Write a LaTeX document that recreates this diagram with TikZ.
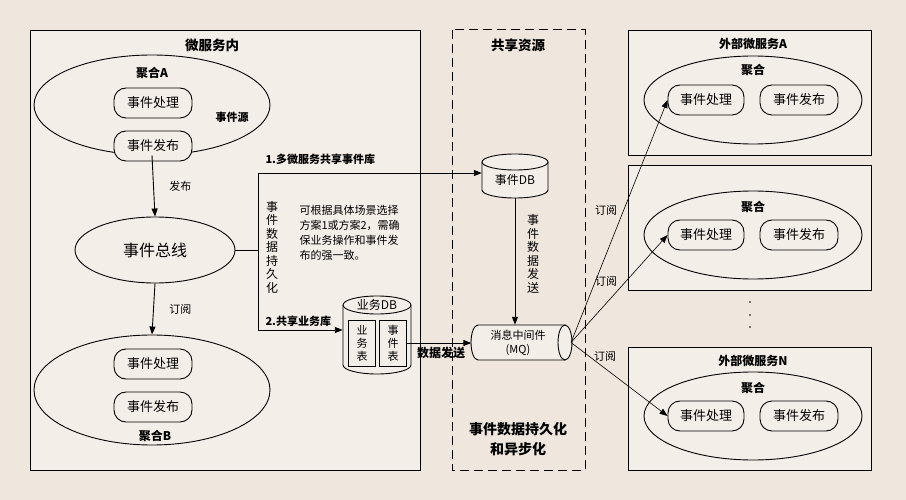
\documentclass[tikz,border=0pt]{standalone}
\usepackage{fontspec}
\setmainfont{Noto Sans CJK SC}
\usetikzlibrary{shapes.geometric,arrows.meta}
\definecolor{bg}{HTML}{EFE6DD}
\definecolor{bx}{HTML}{F4EEE8}
\newcommand\myvcyl[5]{% x1 x2 ytop ybot ry
  \draw[lin,fill=bx] (#1,#3) -- (#1,#4) arc[start angle=180,end angle=0,x radius={(#2-#1)/2},y radius=#5] -- (#2,#3);
  \draw[lin,fill=bx] ({(#1+#2)/2},#3) ellipse[x radius={(#2-#1)/2},y radius=#5];}
\begin{document}
\begin{tikzpicture}[x=1pt,y=-1pt,
  every node/.style={font=\fontsize{12}{14}\selectfont},
  lin/.style={draw=black,line width=0.9pt},
  arr/.style={lin,-{Triangle[length=8pt,width=6pt]}},
  thin arr/.style={draw=black,line width=0.6pt,-{Triangle[length=8pt,width=6pt]}},
  rr/.style={lin,rounded corners=12pt,minimum width=78pt,minimum height=30pt,fill=bx,inner sep=0pt,font=\fontsize{13}{15}\selectfont},
  ell/.style={lin,ellipse,fill=bx,inner sep=0pt},
  ttl/.style={font=\fontsize{13.5}{17}\selectfont\bfseries},
  bl/.style={font=\fontsize{12}{14}\selectfont\bfseries},
  sm/.style={font=\fontsize{11}{13}\selectfont}]
\fill[bg] (0,0) rectangle (906,500);
\useasboundingbox (0,0) rectangle (906,500);
% left box
\draw[lin,fill=bx] (30,30) rectangle (420,470);
\node[ttl] (t1) at (212,45) {微服务内};
\node[ell,minimum width=236pt,minimum height=100pt] (eA) at (152,105) {};
\node[bl] (gA) at (152,73) {聚合A};
\node[rr] (a1) at (153,103) {事件处理};
\node[rr] (a2) at (153,146) {事件发布};
\node[bl,font=\fontsize{11}{13}\selectfont\bfseries] (src) at (232,117) {事件源};
\node[ell,minimum width=160pt,minimum height=66pt,font=\fontsize{16}{18}\selectfont] (bus) at (155,250) {事件总线};
\node[ell,minimum width=236pt,minimum height=110pt] (eB) at (152,390) {};
\node[rr] (b1) at (153,364) {事件处理};
\node[rr] (b2) at (153,407) {事件发布};
\node[bl] (gB) at (155,436) {聚合B};
\draw[arr] (eA.south) -- (bus.north) node[midway,right=12pt,sm] {发布};
\draw[arr] (bus.south) -- (eB.north) node[midway,right=12pt,sm] {订阅};
% dashed box
\draw[lin,dashed,dash pattern=on 9pt off 5pt,line width=1pt] (452,30) rectangle (585,470);
\node[ttl] (t2) at (518,45) {共享资源};
\node[ttl,align=center,font=\fontsize{14}{20}\selectfont\bfseries] (t3) at (518,439) {事件数据持久化\\和异步化};
% DBs
\myvcyl{482}{548}{162}{190}{8}
\node[draw=none,minimum width=66pt,minimum height=44pt,inner sep=0pt] (edb) at (515,176) {};
\node (edbt) at (515,180) {事件DB};
\myvcyl{343}{411}{305}{365}{9}
\node[draw=none,minimum width=68pt,minimum height=76pt,inner sep=0pt] (bdb) at (377,336) {};
\node (bdbt) at (377,305) {业务DB};
\node[lin,fill=bx,minimum width=27pt,minimum height=46pt,align=center,inner sep=0pt,font=\fontsize{11}{13}\selectfont] (tb1) at (362,343) {业\\务\\表};
\node[lin,fill=bx,minimum width=27pt,minimum height=46pt,align=center,inner sep=0pt,font=\fontsize{11}{13}\selectfont] (tb2) at (393,343) {事\\件\\表};
% MQ
\draw[lin,fill=bx] (565,325) -- (478,325) arc[start angle=270,end angle=90,x radius=7,y radius=17.5] -- (565,360);
\draw[lin,fill=bx] (565,342.5) ellipse[x radius=7,y radius=17.5];
\node[draw=none,minimum width=100pt,minimum height=35pt,inner sep=0pt] (mq) at (521.5,342.5) {};
\coordinate (mqr) at (571,342.5);
\node[align=center,font=\fontsize{11}{14}\selectfont] (mqt) at (518,342.5) {消息中间件\\(MQ)};
% persistence lines
\coordinate (j0) at (258,250);
\coordinate (j1) at (258,173);
\coordinate (j2) at (258,330);
\draw[lin] (bus.east) -- (j0);
\draw[lin] (j1) -- (j2);
\draw[arr] (j1) -- (edb.west |- j1);
\draw[arr] (j2) -- (bdb.west |- j2);
\node[bl,font=\fontsize{11}{13}\selectfont\bfseries,anchor=west] (l1) at (262,159) {1.多微服务共享事件库};
\node[bl,font=\fontsize{11}{13}\selectfont\bfseries,anchor=west] (l2) at (262,321) {2.共享业务库};
\node[align=center,font=\fontsize{12}{13.5}\selectfont] (vp) at (272,247) {事\\件\\数\\据\\持\\久\\化};
\node[align=left,anchor=west,font=\fontsize{11}{15}\selectfont] (note) at (296,233) {可根据具体场景选择\\方案1或方案2，需确\\保业务操作和事件发\\布的强一致。};
\draw[arr] (edb.south) -- (mq.north -| edb.south);
\node[align=center,font=\fontsize{12}{13.5}\selectfont] (vs) at (533,254) {事\\件\\数\\据\\发\\送};
\draw[arr] (tb2.east) -- (mq.west |- tb2.east);
\node[bl] (ds) at (441,353) {数据发送};
% right boxes
\foreach \n/\yt/\yb/\ye/\yg/\ttlt in {A/30/155/100/70/外部微服务A, M/165/290/235/207/, N/347/470/416/388/外部微服务N}{
  \draw[lin,fill=bx] (628,\yt) rectangle (871,\yb);
  \node[bl] (h\n) at (753,\yt+14) {\ttlt};
  \node[ell,minimum width=218pt,minimum height=88pt] (e\n) at (753,\ye) {};
  \node[bl] (g\n) at (753,\yg) {聚合};
  \node[rr,minimum width=76pt] (p\n) at (706,\ye) {事件处理};
  \node[rr,minimum width=78pt] (q\n) at (799,\ye) {事件发布};
}
\foreach \y in {302,315,327} \fill (750,\y) circle (0.9pt);
\draw[thin arr] (mqr) -- (pA.west);
\draw[thin arr] (mqr) -- (pM.west);
\draw[thin arr] (mqr) -- (pN.west);
\node[sm] (s1) at (606,210) {订阅};
\node[sm] (s2) at (606,281) {订阅};
\node[sm] (s3) at (605,356) {订阅};
\end{tikzpicture}
\end{document}
